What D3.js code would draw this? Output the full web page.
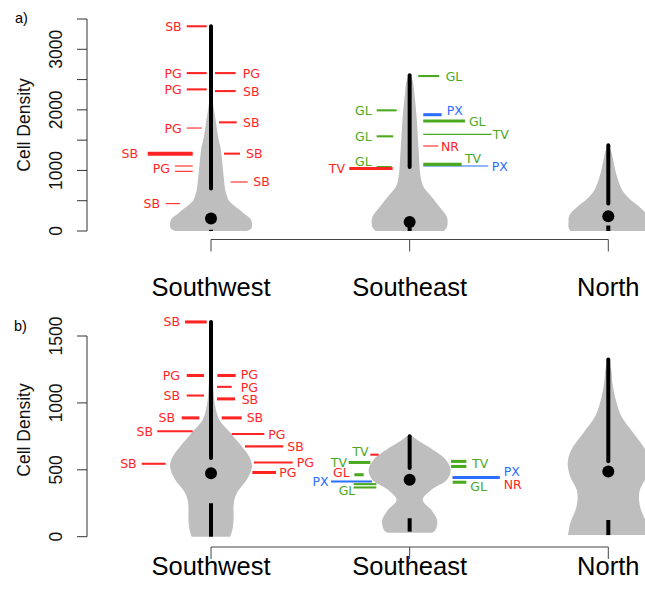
<!DOCTYPE html>
<html><head><meta charset="utf-8">
<script src="https://cdn.jsdelivr.net/npm/d3@7"></script>
<style>body{margin:0;background:#fff} svg{display:block}</style>
</head><body><svg id="c" width="645" height="604"></svg>
<script>
// ---------------- DATA ----------------
const categories = ["Southwest", "Southeast", "North"];

// Panel a
const aTicks = [0, 500, 1000, 1500, 2000, 2500, 3000, 3500];
const aTickLabels = ["0", "", "1000", "", "2000", "", "3000", ""];
const aViolinSW = [[0,0.88],[40,0.98],[100,1.0],[180,0.98],[231,0.92],[290,0.8],[341,0.71],[424,0.55],[507,0.43],[600,0.38],[672,0.35],[892,0.31],[1167,0.27],[1386,0.23],[1497,0.19],[1650,0.15],[1800,0.12],[1950,0.085],[2100,0.05],[2300,0.025],[2600,0.012],[3000,0.007],[3380,0]];
const aViolinSE = [[0,0.83],[66,0.91],[231,0.91],[396,0.73],[561,0.54],[726,0.34],[891,0.27],[1332,0.22],[1881,0.17],[2267,0.115],[2487,0.07],[2586,0]];
const aViolinN  = [[0,0.93],[60,0.97],[150,0.97],[260,0.95],[397,0.76],[535,0.51],[672,0.34],[837,0.24],[1002,0.17],[1167,0.12],[1332,0.06],[1400,0]];
const aBoxTop = [3380, 2570, 1414];
const aBoxBottom = [700, 1056, 452];
const aMedian = [205, 150, 243];
const aLowTop = [20, 70, 90];
const aLowBottom = [0, 0, 0];

// annotations: [label, value, lineColour, n, labelColour]
const aNotesSW = [["SB",3380,"r",2],["PG",2607,"r",2],["PG",2338,"r",2],["PG",1700,"r",1],["SB",1277,"r",4],["PG",1073,"r",1],["",985,"r",1],["SB",452,"r",1],
                  ["PG",2607,"r",2],["SB",2310,"r",2],["SB",1794,"r",2],["SB",1277,"r",2],["SB",809,"r",1]];
const aNotesSE = [["GL",1992,"g",2],["GL",1563,"g",2],["GL",1056,"g",2],["TV",1031,"r",3],
                  ["GL",2558,"g",2],["PX",1920,"b",3],["GL",1815,"g",3],["TV",1595,"g",1],["NR",1403,"r",1],["PX",1073,"b",1],["TV",1100,"g",3]];

// Panel b
const bTicks = [0, 500, 1000, 1500];
const bTickLabels = ["0", "500", "1000", "1500"];
const bViolinSW = [[0,0.47],[50,0.52],[125,0.55],[225,0.55],[275,0.57],[327,0.63],[380,0.76],[425,0.87],[525,1.0],[600,0.93],[675,0.75],[777,0.47],[875,0.2],[950,0.12],[1025,0.08],[1100,0.06],[1300,0.03],[1605,0]];
const bViolinSE = [[30,0.55],[50,0.63],[125,0.67],[200,0.53],[275,0.32],[350,0.53],[425,0.91],[500,1.0],[575,0.88],[625,0.69],[725,0.18],[763,0]];
const bViolinN  = [[12,0.98],[100,0.93],[200,0.8],[275,0.75],[350,0.77],[450,0.93],[550,0.99],[650,0.9],[775,0.61],[900,0.32],[1025,0.18],[1150,0.1],[1250,0.07],[1325,0]];
const bBoxTop = [1605, 750, 1325];
const bBoxBottom = [588, 513, 563];
const bMedian = [475, 425, 488];
const bLowTop = [250, 138, 125];
const bLowBottom = [0, 38, 12];

const bNotesSW = [["SB",1605,"r",3],["PG",1205,"r",3],["SB",1055,"r",2],["SB",888,"r",3],["SB",788,"r",2],["SB",545,"r",2],
                  ["PG",1205,"r",3],["PG",1120,"r",2],["SB",1030,"r",3],["SB",888,"r",3],["PG",767,"r",2],["SB",675,"r",2],["PG",555,"r",2],["PG",480,"r",3]];
const bNotesSE = [["TV",613,"r",2,"g"],["TV",555,"g",3,"g"],["GL",463,"g",3,"r"],["PX",413,"b",2,"b"],["",393,"g",2],["GL",368,"g",2,"g"],
                  ["",563,"g",3],["TV",525,"g",3,"g"],["GL",407,"g",3,"g"],["NR",442,"r",2,"r"],["PX",442,"b",3,"b"]];

// ---------------- LAYOUT (offsets from violin centre, px) ----------------
// [lineStart, lineEnd, labelAnchor, labelDy]
const aLayoutSW = [[-24.3,-4.3,-29.3,0],[-24.3,-4.3,-29.3,0],[-24.3,-4.3,-29.3,0],[-24.3,-9.3,-29.3,0],[-63.3,-18.3,-73,0],[-36,-18.3,-41,2.6],[-36,-18.3,0,0],[-45.3,-31,-51,0],
                   [4,24.7,31.7,0],[4,24.7,32,0],[8,25.7,32,0],[13,29,35,0],[19.7,36.7,42.3,0]];
const aLayoutSE = [[-33,-13,-38,0],[-33,-16.4,-38,0],[-33,-18,-38,-6],[-60.4,-17,-64.7,0],
                   [8.6,29.6,36,0],[13.6,32,37,-4],[13.6,55.3,59.3,0],[13.6,82,83,0],[13.6,28.6,31.3,0],[13.6,78.6,82,0],[13.6,52,55.3,-6]];
const bLayoutSW = [[-26,-4.3,-31,0],[-24.3,-7,-31,0],[-24.3,-7,-31,0],[-29.3,-11.7,-36,0],[-53.7,-18.3,-58,0],[-69.3,-45.3,-74.3,0],
                   [6.3,24.7,29.7,-0.8],[6,20.7,29.7,0.8],[6,24,30.7,0.5],[10.7,30.7,35.7,0],[20.7,53.3,57.3,0],[34,72.3,76.3,0],[43,81.7,85.7,0],[41.3,65,68.3,0]];
const bLayoutSE = [[-39.3,-31,-41,-3.5],[-61,-39.3,-62.6,0],[-55.3,-46,-60,-2.5],[-78.6,-37.6,-81,0],[-56,-33.3,0,0],[-56,-33.3,-54.3,3],
                   [41.4,56.7,0,0],[41.4,56.7,62.4,-2.7],[43,56.7,60.7,4.4],[43,90,94,7.3],[43,90,94,-6]];

const palette = {r:"#ff2424", g:"#4ba91f", b:"#2b6dff"};

// ---------------- DRAW ----------------
const svg = d3.select("#c");
const x = d3.scalePoint().domain(categories).range([211, 608.3]);
const w = d3.scaleLinear().domain([0, 1]).range([0, 41]);
const lwd = d3.scaleLinear().domain([1, 4]).range([1.1, 4]);

function panel(cfg) {
  const g = svg.append("g");
  const y = d3.scaleLinear().domain(cfg.domain).range(cfg.range);

  // violins
  cfg.violins.forEach((v, i) => {
    const cx = x(categories[i]);
    const area = d3.area().y(d => y(d[0])).x0(d => cx - w(d[1])).x1(d => cx + w(d[1])).curve(d3.curveCatmullRom);
    g.append("path").attr("d", area(v)).attr("fill", "#bebebe");
  });

  // annotations
  cfg.notes.forEach((entry, i) => {
    if (!entry) return;
    const [notes, layout] = entry;
    const cx = x(categories[i]);
    notes.forEach((d, j) => {
      const [x0, x1, lx, dy] = layout[j];
      g.append("line").attr("x1", cx + x0).attr("x2", cx + x1)
        .attr("y1", y(d[1])).attr("y2", y(d[1]))
        .attr("stroke", palette[d[2]]).attr("stroke-width", lwd(d[3]));
      if (d[0]) {
        g.append("text").attr("x", cx + lx).attr("y", y(d[1]) + dy)
          .attr("dominant-baseline", "central")
          .attr("text-anchor", x0 < 0 ? "end" : "start")
          .attr("font-family", "DejaVu Sans").attr("font-size", 12.5)
          .attr("fill", palette[d[4] || d[2]]).text(d[0]);
      }
    });
  });

  // boxes
  categories.forEach((c, i) => {
    const cx = x(c);
    g.append("line").attr("x1", cx).attr("x2", cx).attr("y1", y(cfg.boxBottom[i])).attr("y2", y(cfg.boxTop[i]))
      .attr("stroke", "#000").attr("stroke-width", 4).attr("stroke-linecap", "round");
    g.append("line").attr("x1", cx).attr("x2", cx).attr("y1", y(cfg.lowBottom[i])).attr("y2", y(cfg.lowTop[i]))
      .attr("stroke", "#000").attr("stroke-width", 4).attr("stroke-linecap", "butt");
    g.append("circle").attr("cx", cx).attr("cy", y(cfg.median[i])).attr("r", 6).attr("fill", "#000");
  });

  // y axis
  const ya = g.append("g");
  ya.append("line").attr("x1", 87).attr("x2", 87).attr("y1", y(cfg.ticks[0])).attr("y2", y(cfg.ticks[cfg.ticks.length - 1]))
    .attr("stroke", "#333");
  cfg.ticks.forEach((t, k) => {
    ya.append("line").attr("x1", 77).attr("x2", 87).attr("y1", y(t)).attr("y2", y(t)).attr("stroke", "#333");
    if (cfg.tickLabels[k]) {
      ya.append("text").attr("transform", `translate(62,${y(t)}) rotate(-90)`)
        .attr("text-anchor", "middle").attr("font-family", "Liberation Sans, Arial, sans-serif")
        .attr("font-size", 17.5).attr("fill", "#111").text(cfg.tickLabels[k]);
    }
  });
  g.append("text").attr("transform", `translate(29.5,${cfg.titleY}) rotate(-90)`)
    .attr("text-anchor", "middle").attr("font-family", "Liberation Sans, Arial, sans-serif")
    .attr("font-size", 17.5).attr("fill", "#111").text("Cell Density");

  // x axis
  const xa = g.append("g");
  xa.append("line").attr("x1", x(categories[0])).attr("x2", x(categories[2])).attr("y1", cfg.axisY).attr("y2", cfg.axisY).attr("stroke", "#444");
  categories.forEach(c => {
    xa.append("line").attr("x1", x(c)).attr("x2", x(c)).attr("y1", cfg.axisY).attr("y2", cfg.axisY + 12).attr("stroke", "#444");
    xa.append("text").attr("x", x(c)).attr("y", cfg.labelY).attr("text-anchor", "middle")
      .attr("font-family", "Liberation Sans, Arial, sans-serif").attr("font-size", 25.5).attr("fill", "#000").text(c);
  });

  g.append("text").attr("x", cfg.tagX).attr("y", cfg.tagY).attr("font-family", "Liberation Sans, Arial, sans-serif")
    .attr("font-size", 14.5).attr("fill", "#000").text(cfg.tag);
}

panel({
  domain: [0, 3500], range: [231, 19], ticks: aTicks, tickLabels: aTickLabels,
  violins: [aViolinSW, aViolinSE, aViolinN],
  notes: [[aNotesSW, aLayoutSW], [aNotesSE, aLayoutSE], null],
  boxTop: aBoxTop, boxBottom: aBoxBottom, median: aMedian, lowTop: aLowTop, lowBottom: aLowBottom,
  axisY: 239.5, labelY: 296, titleY: 125, tag: "a)", tagX: 15, tagY: 23
});
panel({
  domain: [0, 1500], range: [536.7, 336], ticks: bTicks, tickLabels: bTickLabels,
  violins: [bViolinSW, bViolinSE, bViolinN],
  notes: [[bNotesSW, bLayoutSW], [bNotesSE, bLayoutSE], null],
  boxTop: bBoxTop, boxBottom: bBoxBottom, median: bMedian, lowTop: bLowTop, lowBottom: bLowBottom,
  axisY: 547, labelY: 575, titleY: 430, tag: "b)", tagX: 14, tagY: 331
});
</script></body></html>
